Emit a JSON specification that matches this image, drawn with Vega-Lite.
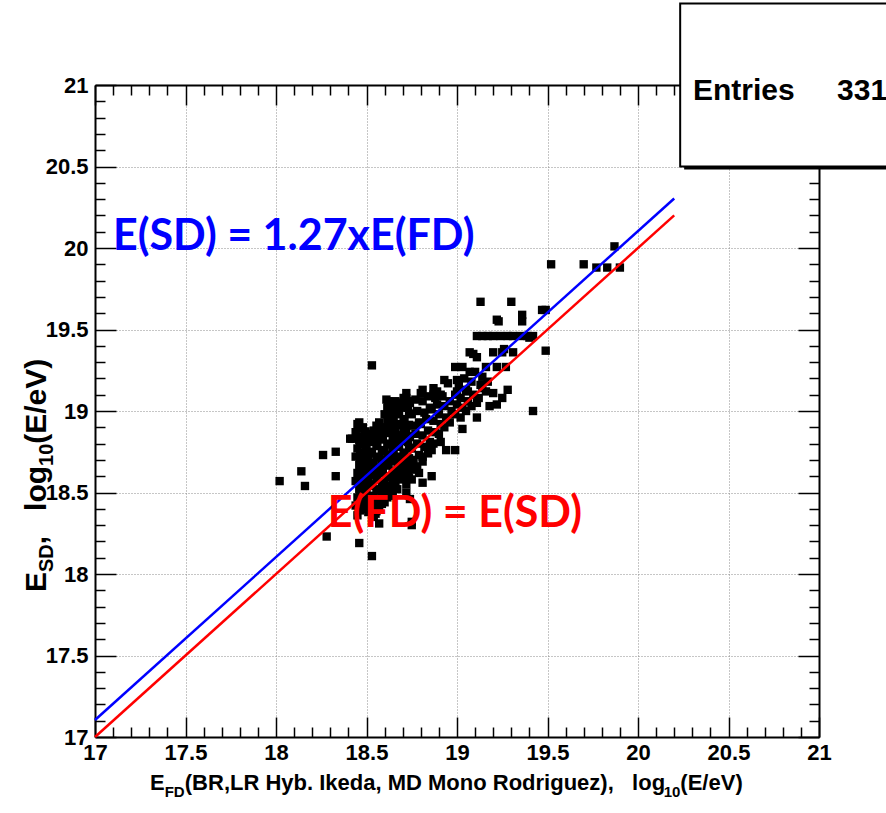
{
  "$schema": "https://vega.github.io/schema/vega-lite/v6.json",
  "width": 724,
  "height": 652,
  "autosize": {"type": "none"},
  "padding": {"left": 95, "top": 85, "right": 67, "bottom": 76},
  "background": "white",
  "config": {
    "view": {"stroke": null},
    "axis": {
      "domainColor": "black",
      "domainWidth": 2,
      "tickColor": "black",
      "tickWidth": 1.5,
      "labelFont": "Liberation Sans",
      "labelFontWeight": "bold",
      "labelFontSize": 22,
      "labelColor": "black",
      "zindex": 0
    }
  },
  "datasets": {
    "pts": [
      {"x":18.02,"y":18.57},{"x":18.14,"y":18.63},{"x":18.16,"y":18.54},{"x":18.26,"y":18.73},{"x":18.33,"y":18.75},{"x":18.33,"y":18.60},{"x":18.41,"y":18.83},{"x":18.28,"y":18.23},{"x":18.46,"y":18.19},{"x":18.53,"y":18.11},{"x":18.57,"y":18.31},{"x":18.53,"y":19.28},{"x":18.75,"y":18.30},
      {"x":19.87,"y":20.01},{"x":19.52,"y":19.90},{"x":19.70,"y":19.90},{"x":19.77,"y":19.88},{"x":19.83,"y":19.88},{"x":19.90,"y":19.88},
      {"x":19.13,"y":19.67},{"x":19.30,"y":19.67},{"x":19.22,"y":19.56},{"x":19.36,"y":19.59},{"x":19.36,"y":19.55},{"x":19.47,"y":19.62},{"x":19.49,"y":19.62},{"x":19.23,"y":19.55},
      {"x":19.11,"y":19.46},{"x":19.14,"y":19.46},{"x":19.17,"y":19.46},{"x":19.20,"y":19.46},{"x":19.24,"y":19.46},{"x":19.28,"y":19.46},{"x":19.31,"y":19.46},{"x":19.35,"y":19.46},{"x":19.39,"y":19.46},{"x":19.42,"y":19.46},{"x":19.40,"y":19.45},
      {"x":19.49,"y":19.37},{"x":19.31,"y":19.36},{"x":19.25,"y":19.36},{"x":19.26,"y":19.38},{"x":19.07,"y":19.36},{"x":19.11,"y":19.33},{"x":18.99,"y":19.27},{"x":19.03,"y":19.27},{"x":19.16,"y":19.27},{"x":19.22,"y":19.27},{"x":19.27,"y":19.27},{"x":19.10,"y":19.24},{"x":19.14,"y":19.21},{"x":18.93,"y":19.19},{"x":18.95,"y":19.17},{"x":18.89,"y":19.12},{"x":19.00,"y":19.12},{"x":19.06,"y":19.12},{"x":19.14,"y":19.14},{"x":19.20,"y":19.11},{"x":19.28,"y":19.13},{"x":19.25,"y":19.08},{"x":19.42,"y":19.00},{"x":19.11,"y":19.05},{"x":19.18,"y":19.03},{"x":19.22,"y":19.04},{"x":19.11,"y":18.96},{"x":19.03,"y":18.89},{"x":18.91,"y":18.81},{"x":18.86,"y":18.76},{"x":18.94,"y":18.76},{"x":18.99,"y":18.76},{"x":18.81,"y":18.69},{"x":18.71,"y":18.67},{"x":18.79,"y":18.62},{"x":18.86,"y":18.60},{"x":18.75,"y":18.58},{"x":18.81,"y":18.56},{"x":18.67,"y":18.52},{"x":18.72,"y":18.50},{"x":18.74,"y":18.46},
      {"x":18.81,"y":19.13},{"x":18.87,"y":19.10},{"x":19.00,"y":19.19},{"x":19.07,"y":19.24},{"x":18.61,"y":19.07},{"x":18.66,"y":19.06},{"x":18.64,"y":18.97},{"x":18.72,"y":19.11},{"x":18.75,"y":18.32},{"x":18.55,"y":18.37},{"x":18.46,"y":18.40},{"x":18.61,"y":18.52},{"x":18.42,"y":18.83},{"x":18.46,"y":18.93},{"x":19.09,"y":19.35},{"x":19.20,"y":19.36},
      {"x":18.45,"y":18.36},{"x":18.44,"y":18.42},{"x":18.45,"y":18.47},{"x":18.46,"y":18.52},{"x":18.44,"y":18.57},{"x":18.45,"y":18.62},{"x":18.46,"y":18.67},{"x":18.44,"y":18.72},{"x":18.45,"y":18.77},{"x":18.46,"y":18.82},{"x":18.44,"y":18.87},{"x":18.45,"y":18.92},
      {"x":18.48,"y":18.40},{"x":18.49,"y":18.46},{"x":18.48,"y":18.55},{"x":18.47,"y":18.60},{"x":18.49,"y":18.66},{"x":18.48,"y":18.74},{"x":18.47,"y":18.80},{"x":18.49,"y":18.85},{"x":18.48,"y":18.90},
      {"x":18.51,"y":18.38},{"x":18.52,"y":18.44},{"x":18.50,"y":18.50},{"x":18.51,"y":18.58},{"x":18.52,"y":18.64},{"x":18.51,"y":18.70},{"x":18.50,"y":18.78},{"x":18.52,"y":18.84},
      {"x":18.54,"y":18.35},{"x":18.55,"y":18.42},{"x":18.54,"y":18.48},{"x":18.53,"y":18.55},{"x":18.55,"y":18.61},{"x":18.54,"y":18.68},{"x":18.53,"y":18.75},{"x":18.55,"y":18.82},{"x":18.54,"y":18.88},
      {"x":18.57,"y":18.40},{"x":18.58,"y":18.46},{"x":18.57,"y":18.52},{"x":18.56,"y":18.59},{"x":18.58,"y":18.65},{"x":18.57,"y":18.72},{"x":18.56,"y":18.79},{"x":18.58,"y":18.86},{"x":18.57,"y":18.93},
      {"x":18.60,"y":18.44},{"x":18.61,"y":18.50},{"x":18.60,"y":18.56},{"x":18.59,"y":18.63},{"x":18.61,"y":18.70},{"x":18.60,"y":18.76},{"x":18.59,"y":18.83},{"x":18.61,"y":18.90},{"x":18.60,"y":18.98},
      {"x":18.63,"y":18.48},{"x":18.64,"y":18.54},{"x":18.63,"y":18.60},{"x":18.62,"y":18.67},{"x":18.64,"y":18.73},{"x":18.63,"y":18.80},{"x":18.62,"y":18.87},{"x":18.64,"y":18.94},{"x":18.63,"y":19.01},{"x":18.62,"y":19.06},
      {"x":18.66,"y":18.56},{"x":18.67,"y":18.62},{"x":18.66,"y":18.69},{"x":18.65,"y":18.75},{"x":18.67,"y":18.82},{"x":18.66,"y":18.88},{"x":18.65,"y":18.95},{"x":18.67,"y":19.03},
      {"x":18.69,"y":18.58},{"x":18.70,"y":18.64},{"x":18.69,"y":18.71},{"x":18.68,"y":18.78},{"x":18.70,"y":18.85},{"x":18.69,"y":18.92},{"x":18.68,"y":18.98},{"x":18.70,"y":19.05},
      {"x":18.72,"y":18.55},{"x":18.73,"y":18.62},{"x":18.72,"y":18.68},{"x":18.71,"y":18.74},{"x":18.73,"y":18.81},{"x":18.72,"y":18.88},{"x":18.71,"y":18.95},{"x":18.73,"y":19.02},{"x":18.72,"y":19.08},
      {"x":18.75,"y":18.64},{"x":18.76,"y":18.70},{"x":18.75,"y":18.77},{"x":18.74,"y":18.84},{"x":18.76,"y":18.91},{"x":18.75,"y":18.98},{"x":18.74,"y":19.05},
      {"x":18.78,"y":18.66},{"x":18.79,"y":18.73},{"x":18.78,"y":18.80},{"x":18.77,"y":18.86},{"x":18.79,"y":18.93},{"x":18.78,"y":19.00},{"x":18.77,"y":19.07},
      {"x":18.81,"y":18.72},{"x":18.82,"y":18.78},{"x":18.81,"y":18.85},{"x":18.80,"y":18.92},{"x":18.82,"y":18.99},{"x":18.81,"y":19.06},{"x":18.80,"y":19.11},
      {"x":18.84,"y":18.74},{"x":18.85,"y":18.81},{"x":18.84,"y":18.88},{"x":18.83,"y":18.95},{"x":18.85,"y":19.02},{"x":18.84,"y":19.09},
      {"x":18.87,"y":18.80},{"x":18.88,"y":18.87},{"x":18.87,"y":18.94},{"x":18.86,"y":19.01},{"x":18.88,"y":19.08},{"x":18.87,"y":19.14},
      {"x":18.90,"y":18.86},{"x":18.91,"y":18.92},{"x":18.90,"y":18.98},{"x":18.89,"y":19.04},{"x":18.91,"y":19.10},
      {"x":18.93,"y":18.90},{"x":18.94,"y":18.96},{"x":18.93,"y":19.03},{"x":18.92,"y":19.09},
      {"x":18.96,"y":18.93},{"x":18.97,"y":19.00},{"x":18.96,"y":19.06},
      {"x":18.99,"y":18.98},{"x":19.00,"y":19.04},{"x":18.99,"y":19.10},
      {"x":19.02,"y":18.96},{"x":19.03,"y":19.02},{"x":19.02,"y":19.08},{"x":19.01,"y":19.16},
      {"x":19.05,"y":19.00},{"x":19.06,"y":19.06},{"x":19.05,"y":19.13},{"x":19.04,"y":19.20},
      {"x":19.08,"y":19.03},{"x":19.09,"y":19.10},{"x":19.08,"y":19.18},
      {"x":19.12,"y":19.08},{"x":19.13,"y":19.16},
      {"x":19.16,"y":19.12},{"x":19.17,"y":19.18},
      {"x":18.465,"y":18.39},{"x":18.465,"y":18.445},{"x":18.465,"y":18.50},{"x":18.465,"y":18.545},{"x":18.465,"y":18.595},{"x":18.465,"y":18.645},{"x":18.465,"y":18.695},{"x":18.465,"y":18.745},{"x":18.465,"y":18.795},{"x":18.465,"y":18.845},{"x":18.465,"y":18.895},
      {"x":18.495,"y":18.43},{"x":18.495,"y":18.51},{"x":18.495,"y":18.575},{"x":18.495,"y":18.63},{"x":18.495,"y":18.70},{"x":18.495,"y":18.77},{"x":18.495,"y":18.825},{"x":18.495,"y":18.875},
      {"x":18.525,"y":18.41},{"x":18.525,"y":18.47},{"x":18.525,"y":18.54},{"x":18.525,"y":18.61},{"x":18.525,"y":18.67},{"x":18.525,"y":18.74},{"x":18.525,"y":18.81},{"x":18.525,"y":18.86},
      {"x":18.555,"y":18.385},{"x":18.555,"y":18.45},{"x":18.555,"y":18.515},{"x":18.555,"y":18.58},{"x":18.555,"y":18.645},{"x":18.555,"y":18.715},{"x":18.555,"y":18.785},{"x":18.555,"y":18.85},{"x":18.555,"y":18.91},
      {"x":18.585,"y":18.43},{"x":18.585,"y":18.49},{"x":18.585,"y":18.555},{"x":18.585,"y":18.62},{"x":18.585,"y":18.685},{"x":18.585,"y":18.755},{"x":18.585,"y":18.825},{"x":18.585,"y":18.895},
      {"x":18.615,"y":18.47},{"x":18.615,"y":18.53},{"x":18.615,"y":18.595},{"x":18.615,"y":18.665},{"x":18.615,"y":18.73},{"x":18.615,"y":18.795},{"x":18.615,"y":18.865},{"x":18.615,"y":18.94},{"x":18.615,"y":19.02},
      {"x":18.645,"y":18.51},{"x":18.645,"y":18.58},{"x":18.645,"y":18.635},{"x":18.645,"y":18.70},{"x":18.645,"y":18.77},{"x":18.645,"y":18.835},{"x":18.645,"y":18.905},{"x":18.645,"y":18.975},{"x":18.645,"y":19.04},
      {"x":18.675,"y":18.59},{"x":18.675,"y":18.655},{"x":18.675,"y":18.72},{"x":18.675,"y":18.785},{"x":18.675,"y":18.85},{"x":18.675,"y":18.915},{"x":18.675,"y":18.99},{"x":18.675,"y":19.05},
      {"x":18.705,"y":18.61},{"x":18.705,"y":18.675},{"x":18.705,"y":18.745},{"x":18.705,"y":18.815},{"x":18.705,"y":18.885},{"x":18.705,"y":18.95},{"x":18.705,"y":19.02},{"x":18.705,"y":19.08},
      {"x":18.735,"y":18.59},{"x":18.735,"y":18.65},{"x":18.735,"y":18.71},{"x":18.735,"y":18.775},{"x":18.735,"y":18.845},{"x":18.735,"y":18.915},{"x":18.735,"y":18.985},{"x":18.735,"y":19.06}
    ],
    "lines": [
      {"x":17,"y":17,"c":"#ff0000","k":"E(FD) = E(SD)"},
      {"x":20.2,"y":20.2,"c":"#ff0000","k":"E(FD) = E(SD)"},
      {"x":17,"y":17.104,"c":"#0000ff","k":"E(SD) = 1.27xE(FD)"},
      {"x":20.2,"y":20.304,"c":"#0000ff","k":"E(SD) = 1.27xE(FD)"}
    ],
    "notes": [
      {"x":17.099,"y":19.99,"t":"E(SD) = 1.27xE(FD)","c":"#0000ff"},
      {"x":18.286,"y":18.286,"t":"E(FD) = E(SD)","c":"#ff0000"}
    ],
    "box": [{"x":20.233,"x2":21.8,"y":20.5,"y2":21.5}],
    "shadow": [{"x":20.255,"x2":21.8,"y":20.482,"y2":21.48}],
    "entries": [{"x":20.304,"y":20.908,"t":"Entries"},{"x":21.10,"y":20.908,"t":"331"}],
    "xtBig": [{"x":17.304,"y":16.675,"t":"E"},{"x":17.496,"y":16.675,"t":"(BR,LR Hyb. Ikeda, MD Mono Rodriguez),\u00a0\u00a0\u00a0log"},{"x":20.234,"y":16.675,"t":"(E/eV)"}],
    "xtSmall": [{"x":17.385,"y":16.632,"t":"FD"},{"x":20.142,"y":16.632,"t":"10"}],
    "ytBig": [{"x":16.729,"y":17.890,"t":"E"},{"x":16.729,"y":18.183,"t":","},{"x":16.729,"y":18.387,"t":"log"},{"x":16.729,"y":18.799,"t":"(E/eV)"}],
    "ytSmall": [{"x":16.768,"y":18.012,"t":"SD"},{"x":16.768,"y":18.663,"t":"10"}]
  },
  "layer": [
    {
      "data": {"name": "pts"},
      "mark": {"type": "point", "shape": "square", "filled": true, "size": 70, "color": "black", "opacity": 1},
      "encoding": {
        "x": {"field": "x", "type": "quantitative",
          "scale": {"domain": [17, 21], "nice": false, "zero": false},
          "axis": {
            "orient": "bottom", "title": null,
            "values": [17,17.1,17.2,17.3,17.4,17.5,17.6,17.7,17.8,17.9,18,18.1,18.2,18.3,18.4,18.5,18.6,18.7,18.8,18.9,19,19.1,19.2,19.3,19.4,19.5,19.6,19.7,19.8,19.9,20,20.1,20.2,20.3,20.4,20.5,20.6,20.7,20.8,20.9,21],
            "grid": true, "gridColor": "#8c8c8c", "gridDash": [1, 2], "gridWidth": 1,
            "gridOpacity": {"condition": {"test": "round(datum.value*10) % 5 != 0", "value": 0}, "value": 1},
            "tickSize": {"condition": {"test": "round(datum.value*10) % 5 == 0", "value": -20}, "value": -10},
            "labelExpr": "round(datum.value*10) % 5 == 0 ? '' + datum.value : ''",
            "labelPadding": 25, "labelOverlap": false, "labelFlush": false
          }},
        "y": {"field": "y", "type": "quantitative",
          "scale": {"domain": [17, 21], "nice": false, "zero": false},
          "axis": {
            "orient": "left", "title": null,
            "values": [17,17.1,17.2,17.3,17.4,17.5,17.6,17.7,17.8,17.9,18,18.1,18.2,18.3,18.4,18.5,18.6,18.7,18.8,18.9,19,19.1,19.2,19.3,19.4,19.5,19.6,19.7,19.8,19.9,20,20.1,20.2,20.3,20.4,20.5,20.6,20.7,20.8,20.9,21],
            "grid": true, "gridColor": "#8c8c8c", "gridDash": [1, 2], "gridWidth": 1,
            "gridOpacity": {"condition": {"test": "round(datum.value*10) % 5 != 0", "value": 0}, "value": 1},
            "tickSize": {"condition": {"test": "round(datum.value*10) % 5 == 0", "value": -21}, "value": -10},
            "labelExpr": "round(datum.value*10) % 5 == 0 ? '' + datum.value : ''",
            "labelPadding": 28, "labelOverlap": false, "labelFlush": false
          }}
      }
    },
    {
      "data": {"name": "lines"},
      "mark": {"type": "line", "strokeWidth": 2.5},
      "encoding": {
        "x": {"field": "x", "type": "quantitative",
          "axis": {
            "orient": "top", "title": null, "labels": false, "grid": false,
            "values": [17,17.1,17.2,17.3,17.4,17.5,17.6,17.7,17.8,17.9,18,18.1,18.2,18.3,18.4,18.5,18.6,18.7,18.8,18.9,19,19.1,19.2,19.3,19.4,19.5,19.6,19.7,19.8,19.9,20,20.1,20.2,20.3,20.4,20.5,20.6,20.7,20.8,20.9,21],
            "tickSize": {"condition": {"test": "round(datum.value*10) % 5 == 0", "value": -20}, "value": -10}
          }},
        "y": {"field": "y", "type": "quantitative",
          "axis": {
            "orient": "right", "title": null, "labels": false, "grid": false,
            "values": [17,17.1,17.2,17.3,17.4,17.5,17.6,17.7,17.8,17.9,18,18.1,18.2,18.3,18.4,18.5,18.6,18.7,18.8,18.9,19,19.1,19.2,19.3,19.4,19.5,19.6,19.7,19.8,19.9,20,20.1,20.2,20.3,20.4,20.5,20.6,20.7,20.8,20.9,21],
            "tickSize": {"condition": {"test": "round(datum.value*10) % 5 == 0", "value": -21}, "value": -10}
          }},
        "color": {"field": "c", "type": "nominal", "scale": null},
        "detail": {"field": "k"}
      }
    },
    {
      "data": {"name": "notes"},
      "mark": {"type": "text", "align": "left", "baseline": "alphabetic", "font": "Lato", "fontWeight": "bold", "fontSize": 43},
      "encoding": {
        "x": {"field": "x", "type": "quantitative", "axis": null},
        "y": {"field": "y", "type": "quantitative", "axis": null},
        "text": {"field": "t"},
        "color": {"field": "c", "type": "nominal", "scale": null}
      }
    },
    {
      "data": {"name": "shadow"},
      "mark": {"type": "rect", "color": "black"},
      "encoding": {
        "x": {"field": "x", "type": "quantitative", "axis": null},
        "x2": {"field": "x2"},
        "y": {"field": "y", "type": "quantitative", "axis": null},
        "y2": {"field": "y2"}
      }
    },
    {
      "data": {"name": "box"},
      "mark": {"type": "rect", "fill": "white", "stroke": "black", "strokeWidth": 2},
      "encoding": {
        "x": {"field": "x", "type": "quantitative", "axis": null},
        "x2": {"field": "x2"},
        "y": {"field": "y", "type": "quantitative", "axis": null},
        "y2": {"field": "y2"}
      }
    },
    {
      "data": {"name": "entries"},
      "mark": {"type": "text", "align": "left", "baseline": "alphabetic", "font": "Liberation Sans", "fontWeight": "bold", "fontSize": 30, "color": "black"},
      "encoding": {
        "x": {"field": "x", "type": "quantitative", "axis": null},
        "y": {"field": "y", "type": "quantitative", "axis": null},
        "text": {"field": "t"}
      }
    },
    {
      "data": {"name": "xtBig"},
      "mark": {"type": "text", "align": "left", "baseline": "alphabetic", "font": "Liberation Sans", "fontWeight": "bold", "fontSize": 22, "color": "black"},
      "encoding": {
        "x": {"field": "x", "type": "quantitative", "axis": null},
        "y": {"field": "y", "type": "quantitative", "axis": null},
        "text": {"field": "t"}
      }
    },
    {
      "data": {"name": "xtSmall"},
      "mark": {"type": "text", "align": "left", "baseline": "alphabetic", "font": "Liberation Sans", "fontWeight": "bold", "fontSize": 15, "color": "black"},
      "encoding": {
        "x": {"field": "x", "type": "quantitative", "axis": null},
        "y": {"field": "y", "type": "quantitative", "axis": null},
        "text": {"field": "t"}
      }
    },
    {
      "data": {"name": "ytBig"},
      "mark": {"type": "text", "align": "left", "baseline": "alphabetic", "angle": 270, "font": "Liberation Sans", "fontWeight": "bold", "fontSize": 30, "color": "black"},
      "encoding": {
        "x": {"field": "x", "type": "quantitative", "axis": null},
        "y": {"field": "y", "type": "quantitative", "axis": null},
        "text": {"field": "t"}
      }
    },
    {
      "data": {"name": "ytSmall"},
      "mark": {"type": "text", "align": "left", "baseline": "alphabetic", "angle": 270, "font": "Liberation Sans", "fontWeight": "bold", "fontSize": 20, "color": "black"},
      "encoding": {
        "x": {"field": "x", "type": "quantitative", "axis": null},
        "y": {"field": "y", "type": "quantitative", "axis": null},
        "text": {"field": "t"}
      }
    }
  ],
  "resolve": {"axis": {"x": "independent", "y": "independent"}}
}
